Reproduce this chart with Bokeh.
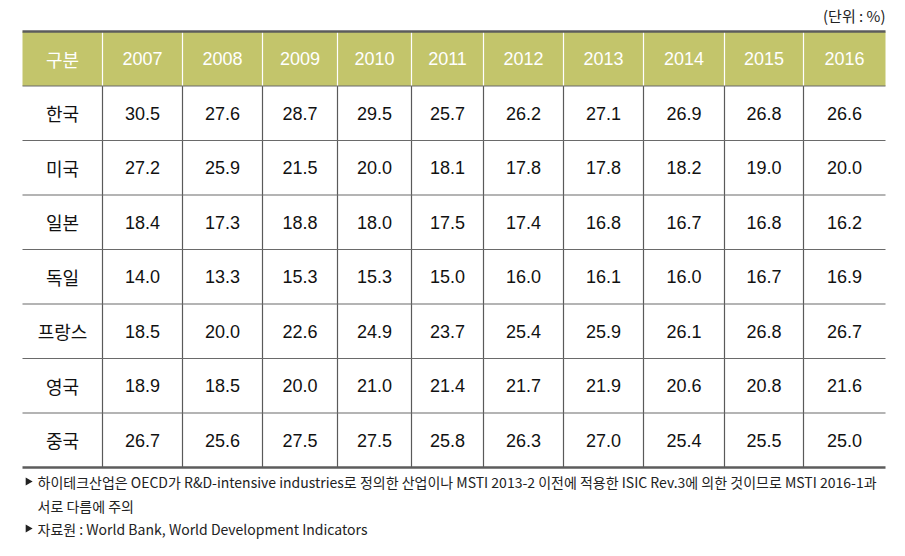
from bokeh.plotting import figure
from bokeh.models import Range1d, ColumnDataSource
from bokeh.core.properties import value
from bokeh.embed import file_html
from bokeh.resources import INLINE

# ---- data ----
header_label = "구분"
years = ["2007", "2008", "2009", "2010", "2011", "2012", "2013", "2014", "2015", "2016"]
countries = ["한국", "미국", "일본", "독일", "프랑스", "영국", "중국"]
korea   = [30.5, 27.6, 28.7, 29.5, 25.7, 26.2, 27.1, 26.9, 26.8, 26.6]
usa     = [27.2, 25.9, 21.5, 20.0, 18.1, 17.8, 17.8, 18.2, 19.0, 20.0]
japan   = [18.4, 17.3, 18.8, 18.0, 17.5, 17.4, 16.8, 16.7, 16.8, 16.2]
germany = [14.0, 13.3, 15.3, 15.3, 15.0, 16.0, 16.1, 16.0, 16.7, 16.9]
france  = [18.5, 20.0, 22.6, 24.9, 23.7, 25.4, 25.9, 26.1, 26.8, 26.7]
uk      = [18.9, 18.5, 20.0, 21.0, 21.4, 21.7, 21.9, 20.6, 20.8, 21.6]
china   = [26.7, 25.6, 27.5, 27.5, 25.8, 26.3, 27.0, 25.4, 25.5, 25.0]
unit_text = "(단위 : %)"
note1a = "하이테크산업은 OECD가 R&D-intensive industries로 정의한 산업이나 MSTI 2013-2 이전에 적용한 ISIC Rev.3에 의한 것이므로 MSTI 2016-1과"
note1b = "서로 다름에 주의"
note2 = "자료원 : World Bank, World Development Indicators"

rows = [korea, usa, japan, germany, france, uk, china]

# ---- layout ----
col_edges = [22, 102, 182, 262, 337, 411, 483, 563, 643, 724, 803, 885]
top = 31
row_h = 54.5
n_rows = len(countries) + 1
row_edges = [top + i * row_h for i in range(n_rows + 1)]

NUM_FONT = value("Liberation Sans")
KR_FONT = value("Noto Sans CJK KR")

p = figure(width=889, height=540, output_backend="svg", toolbar_location=None,
           x_range=Range1d(0, 889), y_range=Range1d(540, 0),
           min_border=0, outline_line_color=None)
p.axis.visible = False
p.grid.visible = False
p.background_fill_color = "white"
p.border_fill_color = "white"

# header background
p.quad(left=[col_edges[0]], right=[col_edges[-1]], top=[row_edges[0]], bottom=[row_edges[1]],
       fill_color="#c3c56b", line_color=None)

hx = col_edges[1:-1]
p.segment(x0=hx, x1=hx, y0=[row_edges[0]] * len(hx), y1=[row_edges[1]] * len(hx),
          line_color="white", line_width=1.2)
p.segment(x0=hx, x1=hx, y0=[row_edges[1]] * len(hx), y1=[row_edges[-1]] * len(hx),
          line_color="#5a5a5a", line_width=1.2)
hy = row_edges[1:-1]
p.segment(x0=[col_edges[0]] * len(hy), x1=[col_edges[-1]] * len(hy), y0=hy, y1=hy,
          line_color="#6a6a6a", line_width=1.2)
p.segment(x0=[col_edges[0]] * 2, x1=[col_edges[-1]] * 2, y0=[row_edges[0], row_edges[-1]],
          y1=[row_edges[0], row_edges[-1]], line_color="#5c5c5c", line_width=2.5)

centers_x = [(col_edges[i] + col_edges[i + 1]) / 2 for i in range(len(col_edges) - 1)]
centers_y = [(row_edges[i] + row_edges[i + 1]) / 2 for i in range(n_rows)]

p.text(x=[centers_x[0]], y=[centers_y[0]], text=[header_label], text_font=KR_FONT,
       text_font_size="18px", text_color="white", text_align="center", text_baseline="middle")
p.text(x=centers_x[1:], y=[centers_y[0]] * len(years), text=years, text_font=NUM_FONT,
       text_font_size="18px", text_color="white", text_align="center", text_baseline="middle")

p.text(x=[centers_x[0]] * len(countries), y=centers_y[1:], text=countries, text_font=KR_FONT,
       text_font_size="18px", text_color="#111111", text_align="center", text_baseline="middle")

xs, ys, ts = [], [], []
for r, vals in enumerate(rows):
    for c, v in enumerate(vals):
        xs.append(centers_x[c + 1])
        ys.append(centers_y[r + 1])
        ts.append(f"{v:.1f}")
src = ColumnDataSource(dict(x=xs, y=ys, t=ts))
p.text(x="x", y="y", text="t", source=src, text_font=NUM_FONT, text_font_size="18px",
       text_color="#111111", text_align="center", text_baseline="middle")

p.text(x=[col_edges[-1]], y=[15], text=[unit_text], text_font=KR_FONT, text_font_size="15px",
       text_color="#222222", text_align="right", text_baseline="middle")

note_y = [481, 505, 528]
p.triangle(x=[27.5, 27.5], y=[note_y[0], note_y[2]], size=8, angle=-1.5708,
           fill_color="#222222", line_color=None)
p.text(x=[37, 37, 37], y=note_y, text=[note1a, note1b, note2], text_font=KR_FONT,
       text_font_size="14px", text_color="#222222", text_align="left", text_baseline="middle")

open("out.html", "w").write(file_html(p, INLINE))
